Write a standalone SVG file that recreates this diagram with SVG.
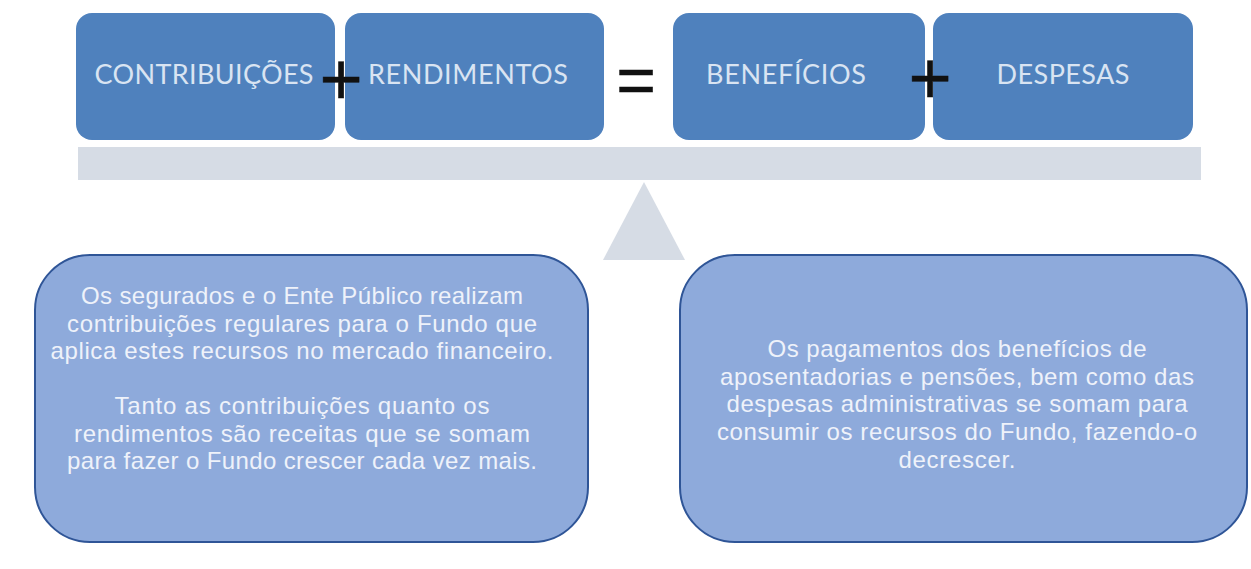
<svg xmlns="http://www.w3.org/2000/svg" width="1251" height="569" viewBox="0 0 1251 569">
<style>
.top{fill:#4F81BD}
.lbl{font-family:Lato,"Open Sans",sans-serif;font-size:27px;fill:#D9E4F2;text-anchor:middle}
.bar{fill:#D6DCE5}
.box{fill:#8EAADB;stroke:#2F5597;stroke-width:2}
.body{font-family:"Liberation Sans",Arial,sans-serif;font-size:24px;fill:#EEF2FA;text-anchor:middle}
.op{font-family:"Liberation Sans",Arial,sans-serif;fill:#111;text-anchor:middle;stroke:#111;stroke-width:0.5}
</style>
<rect width="1251" height="569" fill="#FFFFFF"/>
<g id="balance">
<rect class="bar" x="78" y="147" width="1123" height="33"/>
<polygon class="bar" points="644,182 685,260 603,260"/>
</g>
<g id="contribuicoes">
<rect class="top" x="76" y="13" width="259" height="127" rx="16"/>
<text class="lbl" x="204" y="84" textLength="219">CONTRIBUIÇÕES</text>
</g>
<g id="rendimentos">
<rect class="top" x="345" y="13" width="259" height="127" rx="16"/>
<text class="lbl" x="468" y="84" textLength="200">RENDIMENTOS</text>
</g>
<g id="beneficios">
<rect class="top" x="673" y="13" width="252" height="127" rx="16"/>
<text class="lbl" x="786" y="84" textLength="160">BENEFÍCIOS</text>
</g>
<g id="despesas">
<rect class="top" x="933" y="13" width="260" height="127" rx="16"/>
<text class="lbl" x="1063" y="84" textLength="133">DESPESAS</text>
</g>
<g id="operators">
<text class="op" x="341" y="105" font-size="74">+</text>
<text class="op" x="636" y="104" font-size="68">=</text>
<text class="op" x="930" y="104" font-size="74">+</text>
</g>
<g id="receitas">
<rect class="box" x="35" y="255" width="553" height="287" rx="55"/>
<text class="body" x="302" y="304" textLength="442">Os segurados e o Ente Público realizam</text>
<text class="body" x="302" y="332" textLength="470">contribuições regulares para o Fundo que</text>
<text class="body" x="302" y="359" textLength="503">aplica estes recursos no mercado financeiro.</text>
<text class="body" x="302" y="414" textLength="375">Tanto as contribuições quanto os</text>
<text class="body" x="302" y="442" textLength="456">rendimentos são receitas que se somam</text>
<text class="body" x="302" y="469" textLength="470">para fazer o Fundo crescer cada vez mais.</text>
</g>
<g id="despesas-texto">
<rect class="box" x="680" y="255" width="567" height="287" rx="55"/>
<text class="body" x="957" y="357" textLength="379">Os pagamentos dos benefícios de</text>
<text class="body" x="957" y="385" textLength="474">aposentadorias e pensões, bem como das</text>
<text class="body" x="957" y="412" textLength="461">despesas administrativas se somam para</text>
<text class="body" x="957" y="440" textLength="480">consumir os recursos do Fundo, fazendo-o</text>
<text class="body" x="957" y="468" textLength="117">decrescer.</text>
</g>
</svg>
